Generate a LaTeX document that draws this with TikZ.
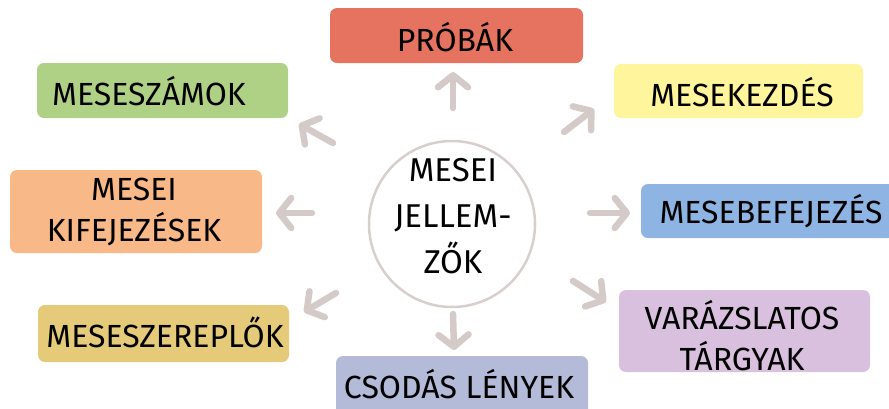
\documentclass[tikz,border=0pt]{standalone}
\usepackage{fontspec}
\setmainfont{Fira Sans}
\usetikzlibrary{arrows.meta}
\definecolor{cred}{HTML}{E6735F}
\definecolor{cgreen}{HTML}{AFD186}
\definecolor{cyellow}{HTML}{FFF59C}
\definecolor{corange}{HTML}{F8B888}
\definecolor{cblue}{HTML}{8DB4E2}
\definecolor{ckhaki}{HTML}{E5CA7A}
\definecolor{clilac}{HTML}{D9C0DF}
\definecolor{clav}{HTML}{B4BBD9}
\definecolor{carrow}{HTML}{D4CAC8}
\definecolor{ccircle}{HTML}{D8CFCC}
\begin{document}
\begin{tikzpicture}[x=1pt,y=-1pt,
  box/.style={fill=#1, rounded corners=7pt},
  lbl/.style={font=\fontsize{32}{41}\selectfont, text=black, align=center, inner sep=0pt},
  arr/.style={draw=carrow, line width=6.5pt, line cap=round,
     -{Straight Barb[length=12pt,width=30pt,line width=6.5pt,round]}}]
\useasboundingbox (0,0) rectangle (889,408);
% boxes
\fill[box=cred] (330,8) rectangle (583,63);
\fill[box=cgreen] (37,63) rectangle (288,118);
\fill[box=cyellow] (614,64) rectangle (863,118);
\fill[box=corange] (10,170) rectangle (262,253);
\fill[box=cblue] (641,184) rectangle (895,238);
\fill[box=ckhaki] (38,305) rectangle (289,362);
\fill[box=clilac] (619,290) rectangle (870,372);
\fill[box=clav] (336,356) rectangle (588,420);
% labels
\node[lbl] (probak) at (455,37) {PRÓBÁK};
\node[lbl] (szamok) at (149,91) {MESESZÁMOK};
\node[lbl] (kezdes) at (742,92) {MESEKEZDÉS};
\node[lbl] (kifej) at (134,212) {MESEI\\KIFEJEZÉSEK};
\node[lbl] (befej) at (771,211) {MESEBEFEJEZÉS};
\node[lbl] (szerep) at (165,332) {MESESZEREPLŐK};
\node[lbl] (targy) at (742,336) {VARÁZSLATOS\\TÁRGYAK};
\node[lbl] (lenyek) at (459,384) {CSODÁS LÉNYEK};
% center
\node[circle, draw=ccircle, line width=2.5pt, minimum size=166pt] (c) at (452,224) {};
\node[lbl, font=\fontsize{33}{46}\selectfont] (ct) at (453,216) {MESEI\\JELLEM-\\ZŐK};
% arrows
\coordinate (u0) at (453,108); \coordinate (u1) at (453,72);
\coordinate (ul0) at (333,143); \coordinate (ul1) at (299,124);
\coordinate (ur0) at (564,132); \coordinate (ur1) at (594,109);
\coordinate (l0) at (312,213); \coordinate (l1) at (276,213);
\coordinate (r0) at (590,213); \coordinate (r1) at (630,213);
\coordinate (dl0) at (336,293); \coordinate (dl1) at (304,312);
\coordinate (d0) at (453,314); \coordinate (d1) at (454,350);
\coordinate (dr0) at (573,281); \coordinate (dr1) at (606,302);
\draw[arr] (u0) -- (u1);
\draw[arr] (ul0) -- (ul1);
\draw[arr] (ur0) -- (ur1);
\draw[arr] (l0) -- (l1);
\draw[arr] (r0) -- (r1);
\draw[arr] (dl0) -- (dl1);
\draw[arr] (d0) -- (d1);
\draw[arr] (dr0) -- (dr1);
\end{tikzpicture}
\end{document}
